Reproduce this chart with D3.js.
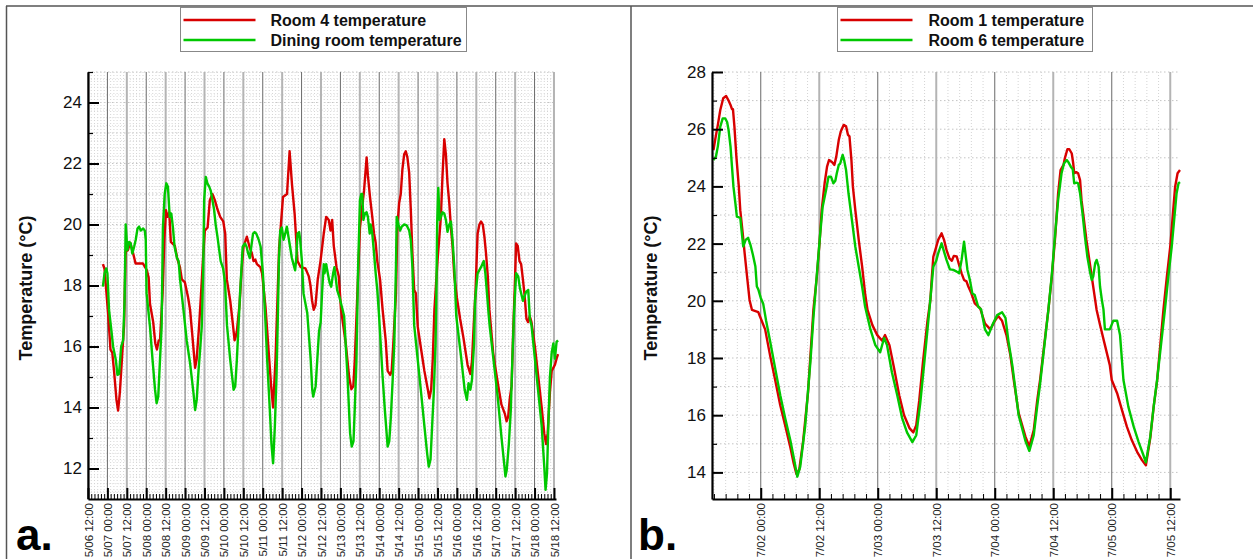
<!DOCTYPE html>
<html>
<head>
<meta charset="utf-8">
<script src="https://cdn.jsdelivr.net/npm/d3@7"></script>
<style>
body { margin: 0; background: #fff; }
svg { display: block; }
text { font-family: "Liberation Sans", Arial, sans-serif; }
</style>
</head>
<body>
<svg id="chart" width="1253" height="559"></svg>
<script>
// ---- data: [hours after first midnight, °C] ----
// panel a: hours after 5/07 00:00
const room4 = [[-2.8,18.7],[-1.8,18.55],[0.4,17.1],[1.9,15.9],[3,15.8],[4.1,15.2],[5.6,14.25],[6.6,13.9],[7.7,14.5],[9.1,15.7],[10.3,16.7],[11.2,19],[11.8,19.3],[12.6,19.15],[14.1,19.4],[15.7,19.1],[17.4,18.72],[22,18.72],[24.4,18.5],[25.5,18.25],[26.3,17.4],[28.3,16.8],[29.6,16.1],[30.6,15.9],[31.7,16.2],[32.5,16.2],[34.1,17.75],[35.2,19.5],[36.2,20.47],[36.9,20.25],[38.2,20.4],[39.2,19.43],[41.7,19.3],[43.1,18.9],[44.8,18.6],[46,18.2],[47.9,18.1],[49.9,17.6],[51.1,17.2],[52.6,16.3],[54.2,15.3],[55.2,15.6],[56.7,16.7],[57.9,17.75],[59,18.8],[60.2,19.8],[61.9,19.9],[63.3,20.8],[64.9,21],[66.4,20.8],[68,20.5],[69.7,20.25],[71.6,20.1],[72.8,19.7],[73.8,18.2],[75.9,17.5],[77.6,16.7],[78.6,16.2],[79.2,16.3],[80,16.5],[81.7,17.4],[82.8,18.4],[84.1,19.27],[86.2,19.6],[87.8,19.27],[89.3,19.05],[90.3,18.8],[91.4,18.85],[92.4,18.7],[94.5,18.6],[95.6,18.4],[97.7,17.3],[99.7,15.8],[101.2,14.7],[102.4,14],[103.9,15.6],[104.9,17.2],[106.1,19.2],[108.5,20.9],[111,21],[112.6,22.4],[114.1,21.3],[115.7,20.36],[117.5,18.8],[119.5,18.6],[122.4,18.56],[124.5,18.3],[125.5,18],[126.5,17.5],[127.5,17.2],[128.6,17.35],[130,18.2],[131.7,18.8],[133.7,19.7],[135.2,20.25],[136.8,20.15],[137.9,19.8],[138.9,20.15],[139.9,19.3],[141.6,18.6],[143,18.3],[144.4,17.2],[147.3,16.1],[149.4,15],[150.8,14.6],[152,14.7],[152.9,15.56],[154.1,17.2],[156.1,19.9],[157.5,20.6],[158.6,21.1],[160.2,22.2],[161,21.6],[162.3,20.9],[163.7,20.25],[164.8,19.7],[165.8,19.4],[166.8,18.8],[168.5,18.2],[170.1,17.2],[172,16.2],[173.2,15.2],[174.8,15.07],[175.7,15.2],[176.7,16.1],[178.3,17.7],[179.2,19.9],[180.3,20.7],[181.3,21],[182.3,21.8],[183.4,22.3],[184.4,22.4],[185.4,22.2],[186.5,21.7],[187.5,20.5],[188.5,19.05],[189.6,17.85],[190.6,17.75],[191.8,16.65],[193.9,15.9],[195.9,15.2],[198,14.6],[199,14.3],[200.1,14.6],[201.1,15.6],[202.1,17.2],[204,18.8],[206.1,20.25],[207.1,21.6],[208.2,22.8],[209.2,22.3],[210.2,21.35],[211.3,20.7],[212.3,19.9],[213.3,19.3],[214.4,18.3],[216,17.6],[218,16.9],[220,16.3],[222.6,15.4],[224.3,15.1],[225.3,15.5],[226.4,16.7],[227.5,17.8],[228.8,19.7],[229.9,20],[230.9,20.1],[232,20],[233,19.6],[234,19.05],[235.1,18.3],[236.1,17.2],[238.4,15.8],[239.5,15.4],[241.6,14.7],[243.5,14.1],[245.6,13.8],[246.7,13.55],[247.7,13.7],[248.7,14.3],[249.8,14.7],[250.8,16.5],[251.8,18],[252.6,19.38],[253.6,19.3],[254.7,18.8],[255.7,18.7],[256.8,18.2],[257.8,17.7],[259,16.9],[260,16.8],[261,17],[262.1,16.8],[264.2,16],[266.3,15],[268.4,14],[270,13.15],[271.1,12.8],[272.1,13.15],[273.5,14.5],[274.6,15.2],[276.6,15.4],[277.6,15.6],[278.5,15.75]];
const dining = [[-2.8,17.96],[-1.8,18.4],[-0.8,18.56],[0,18.4],[1,17.2],[2.5,16.5],[3.5,16],[5.2,15.56],[6.2,15.07],[7.2,15.1],[8.5,16],[9.7,16.2],[10.6,17.5],[11.3,20],[12.3,19.16],[13.4,19.43],[14.4,19.38],[15.4,19.05],[16.5,19.27],[17.5,19.5],[18.6,19.87],[19.6,19.93],[20.6,19.8],[22.1,19.87],[23.1,19.8],[23.7,19.5],[24.2,17.75],[26.3,16.65],[27.9,15.56],[29.4,14.6],[30.4,14.14],[31.4,14.35],[32.5,15.56],[33.5,16.65],[34.3,19.9],[35.4,21],[36.4,21.35],[37.4,21.24],[38.5,20.25],[39.5,20.36],[40.5,19.9],[41.5,19.27],[43,18.9],[44,18.8],[44.9,18.2],[47,17.2],[49,16.2],[51.1,15.45],[53.2,14.47],[54.2,13.92],[55.2,14.25],[56.3,15.2],[57.3,15.9],[58.3,16.65],[59.2,18.5],[59.8,20.8],[60.8,21.56],[61.8,21.35],[62.9,21.24],[63.9,21.1],[64.9,20.8],[65.9,20.5],[66.9,20],[68,19.6],[70,18.8],[71.5,18.56],[72.7,18.1],[73.9,16.7],[75.9,15.56],[78,14.58],[79,14.7],[80,15.56],[81,16.65],[82,17.75],[83,18.7],[83.6,19.27],[85,19.38],[86,19.27],[87,19.05],[88,18.9],[90,19.7],[91,19.75],[92,19.7],[93.5,19.5],[94.7,19.27],[96.1,18.4],[97.5,17],[98.7,15.6],[100.3,14],[101.4,12.8],[102.4,12.17],[103.5,13.4],[104.5,15],[105.3,16.9],[106,18.8],[106.8,19.8],[107.8,19.9],[108.9,19.5],[109.9,19.7],[110.9,19.93],[111.9,19.6],[112.9,19.27],[114,18.9],[115,18.7],[116,18.5],[116.6,18.8],[117.5,19.7],[118.5,19.75],[119.1,19.5],[120.2,18.8],[121.2,17.74],[123.5,17.1],[125.6,15.6],[126.6,14.58],[127.2,14.36],[128.7,14.7],[129.7,15.56],[130.8,16.5],[131.8,16.8],[132.7,17.8],[133.7,18.7],[134.2,18.4],[135.2,18.7],[136.2,18.4],[137.3,18.1],[138.3,17.96],[139.5,18.4],[140.3,18.6],[141,18.3],[142,17.85],[143.5,17.6],[146.3,17],[148.4,15],[150,13.15],[151,12.72],[152.1,12.9],[152.9,14],[153.9,15.5],[154.9,18.5],[156.1,20.8],[156.9,21],[157.5,21],[158.2,20.15],[159.2,20.36],[160.2,20.4],[161,20.25],[162.1,19.7],[162.7,20],[163.7,19.7],[164.8,19.05],[165.8,18.4],[166.8,17.85],[167.9,17],[170.1,15],[171.5,13.9],[173.2,12.72],[174.2,12.9],[175.2,13.7],[176.3,14.9],[177.3,16.1],[178.3,18.5],[178.8,20.25],[179.9,20],[180.9,19.8],[181.9,19.93],[183.4,20],[185,19.97],[186.5,19.8],[187.5,19.5],[188.5,18.6],[189.6,16.7],[191.8,15.56],[193.9,14.47],[195.9,13.4],[197.6,12.5],[198.6,12.06],[199.7,12.3],[200.7,13.4],[201.7,14.47],[202.8,16.1],[203.2,17.3],[203.8,20],[204.5,21.2],[205.3,20.15],[206.1,20.25],[207.1,20.4],[208.2,20.36],[209.2,20.15],[210.2,19.76],[211.3,20],[212.3,20.1],[213.3,19.5],[214.4,18.6],[215.6,17],[218.7,15.6],[220.8,14.58],[222.2,14.25],[223.2,14.8],[224.3,14.58],[225.3,14.9],[226.6,16.1],[227.2,17.5],[228.8,18.4],[230.9,18.6],[232.6,18.8],[233.6,18.4],[234.6,17.74],[235.7,17],[236.3,16.65],[239.4,15.2],[241.4,14.25],[243.5,13.05],[245.2,12.17],[246,11.74],[246.8,11.95],[248.1,12.8],[249.3,13.9],[250.3,15.6],[251.4,17.2],[252.6,18.4],[253.9,18.3],[255,17.9],[256.8,17.5],[258.8,17.8],[260.1,17.85],[261.1,16.9],[262.1,16.7],[264.2,15.6],[266.3,14.5],[268.4,13.4],[270,12.06],[270.8,11.3],[271.7,11.85],[272.5,13.4],[273.5,15],[274.6,15.8],[275.6,16.1],[276.6,15.6],[277.6,16.15],[278.5,16.2]];

// panel b: hours after 7/02 00:00
const room1 = [[-9.7,25.27],[-9.3,25.68],[-8.8,26.15],[-8.3,26.67],[-7.7,27.08],[-7.1,27.16],[-6.6,27],[-6.2,26.85],[-5.9,26.7],[-5.7,26.7],[-5.4,26.09],[-5,25.04],[-4.5,23.99],[-4.2,23.17],[-3.7,22.36],[-3.3,21.66],[-2.8,20.84],[-2.3,20.03],[-1.8,19.68],[-0.5,19.6],[0.9,19],[1.9,18.1],[3,17.2],[4,16.35],[5,15.65],[6.1,14.85],[6.7,14.36],[7.3,13.95],[7.9,14.1],[8.7,15.1],[9.7,16.8],[10.8,19.68],[11.5,20.84],[12.1,22.13],[12.5,23.17],[13.1,24.11],[13.6,24.69],[14,24.92],[14.6,24.85],[15.1,24.75],[15.5,25.05],[16,25.62],[16.4,25.91],[17,26.15],[17.5,26.1],[17.9,25.8],[18.2,25.75],[18.6,24.92],[18.9,23.99],[19.4,23.17],[20.1,22.13],[20.8,21.19],[21.4,20.26],[21.9,19.68],[22.9,19.15],[23.9,18.8],[24.9,18.6],[25.5,18.8],[26.4,18.45],[27.4,17.6],[28.4,16.7],[29.4,16],[30.5,15.55],[31.3,15.4],[31.9,15.65],[32.5,16.5],[33.3,17.9],[34.2,19.3],[34.8,20.03],[35.1,20.84],[35.4,21.54],[36,21.89],[36.4,22.13],[37.1,22.36],[37.6,22.13],[38.1,21.78],[38.7,21.48],[39.2,21.4],[39.6,21.57],[40.2,21.55],[40.7,21.25],[41.2,20.96],[41.7,20.73],[42.2,20.68],[42.6,20.49],[43.2,20.26],[43.9,19.91],[45,19.74],[46,19.2],[47.1,19],[47.9,19.26],[48.7,19.47],[49.5,19.3],[50.4,18.8],[51.2,18.1],[51.9,17.23],[52.9,16.07],[54.3,15.25],[55.1,14.9],[56,15.48],[56.7,16.5],[57.3,17.23],[59,19.68],[59.7,20.84],[60.4,22.24],[61,23.76],[61.5,24.57],[62.1,24.75],[62.4,25],[62.9,25.3],[63.3,25.3],[63.8,25.15],[64.1,24.8],[64.3,24.46],[64.7,24.5],[65.1,24.46],[65.5,24.22],[65.8,23.52],[66.3,22.83],[66.8,22.13],[67.4,21.43],[67.9,20.84],[68.4,20.26],[68.9,19.68],[69.6,19.15],[70.6,18.45],[71.6,17.75],[72,17.23],[73.1,16.77],[74.1,16.18],[75.1,15.6],[76.1,15.13],[77.2,14.72],[78.2,14.43],[79,14.25],[79.9,15.2],[80.6,16.3],[81.3,17.2],[82.6,19.68],[83.3,20.84],[84,21.89],[84.5,22.94],[85,23.99],[85.5,24.46],[86,24.57]];
const room6 = [[-9.7,24.92],[-9.2,25.04],[-8.8,25.4],[-8.3,26.09],[-7.8,26.38],[-7.3,26.38],[-6.9,26.25],[-6.6,25.97],[-6.2,25.39],[-5.9,24.69],[-5.6,23.99],[-5.2,23.41],[-4.9,22.94],[-4.2,22.9],[-3.6,21.9],[-3.1,22.13],[-2.6,22.2],[-2.1,21.95],[-1.6,21.6],[-1.1,21.2],[-0.8,20.5],[-0.5,20.4],[0,20.1],[0.5,19.9],[1.1,19.3],[1.9,18.6],[3,17.6],[4,16.7],[5,15.9],[6.1,15.1],[6.9,14.4],[7.5,13.85],[8.1,14.2],[9.1,15.6],[10.2,17.9],[10.8,19.4],[11.5,20.9],[12.2,22.36],[12.7,23.29],[13.4,23.87],[13.9,24.34],[14.4,24.34],[14.9,24.11],[15.3,24.2],[15.6,24.46],[16,24.75],[16.3,24.8],[16.8,25.1],[17.1,24.92],[17.5,24.57],[18,23.76],[18.7,22.83],[19.4,21.89],[20.1,21.19],[20.8,20.49],[21.4,19.8],[22.5,19],[23.5,18.45],[24.5,18.2],[25.3,18.7],[25.9,18.45],[26.9,17.5],[28,16.7],[29,15.9],[30,15.4],[31.1,15.06],[31.9,15.3],[32.7,16.4],[33.7,18.1],[34.6,19.7],[35.4,21.19],[36,21.4],[36.4,21.66],[37.1,22.01],[37.7,21.66],[38.1,21.43],[38.8,21.1],[39.5,21.08],[40.2,21.02],[40.7,20.96],[41.2,21.43],[41.7,22.07],[42.1,21.5],[42.4,21.08],[42.9,20.73],[43.4,20.26],[43.9,20.2],[44.6,19.8],[45.2,19.7],[46,19],[46.7,18.8],[47.5,19.15],[48.5,19.5],[49.5,19.6],[50.2,19.4],[50.8,18.6],[51.6,17.75],[52.9,16],[54.3,15.1],[55.1,14.75],[56,15.3],[56.7,16.3],[57.3,17.1],[59,19.68],[59.7,20.9],[60.4,22.36],[61,23.52],[61.7,24.46],[62.2,24.8],[62.8,24.92],[63.1,24.85],[63.6,24.69],[64,24.6],[64.3,24.11],[64.8,24.13],[65.1,24.11],[65.5,23.76],[66,23.06],[66.5,22.24],[67,21.54],[67.6,20.96],[67.9,20.73],[68.2,20.85],[68.6,21.31],[68.9,21.43],[69.3,21.2],[69.6,20.49],[70,20],[70.3,19.7],[70.6,19],[71.6,19],[72.3,19.3],[73.1,19.3],[73.7,18.8],[74.4,17.23],[75.4,16.3],[76.5,15.6],[77.5,15.07],[78.5,14.6],[79,14.35],[79.9,15.25],[80.6,16.3],[81.3,17.23],[82.9,19.68],[83.6,20.84],[84.3,21.89],[84.8,22.83],[85.3,23.76],[85.7,24.11],[86,24.15]];

const legendA = ["Room 4 temperature", "Dining room temperature"];
const legendB = ["Room 1 temperature", "Room 6 temperature"];
const yTicksA = [12, 14, 16, 18, 20, 22, 24];
const yTicksB = [14, 16, 18, 20, 22, 24, 26, 28];
const RED = "#d80000", GREEN = "#00c800";

const svg = d3.select("#chart");
const fmt = d3.timeFormat("%-m/%d %H:%M");

function drawPanel(p) {
  const x = d3.scaleTime().domain(p.xDomain).range([p.left, p.right]);
  const y = d3.scaleLinear().domain(p.yDomain).range([p.bottom, p.top]);
  const g = svg.append("g");

  // fine dotted grid
  g.append("g").selectAll("line").data(p.yFine).join("line")
    .attr("x1", p.left).attr("x2", p.right).attr("y1", d => y(d)).attr("y2", d => y(d))
    .attr("stroke", "#e2e2e2").attr("stroke-dasharray", "1,2");
  g.append("g").selectAll("line").data(p.yGrid).join("line")
    .attr("x1", p.left).attr("x2", p.right).attr("y1", d => y(d)).attr("y2", d => y(d))
    .attr("stroke", "#c4c4c4").attr("stroke-dasharray", "1.5,2.5");
  g.append("g").selectAll("line").data(p.xMinor).join("line")
    .attr("x1", d => x(d)).attr("x2", d => x(d)).attr("y1", p.top).attr("y2", p.bottom)
    .attr("stroke", "#d4d4d4").attr("stroke-dasharray", "1,2");

  // solid vertical lines at 12h marks
  g.append("g").selectAll("line").data(p.xMajor).join("line")
    .attr("x1", d => x(d)).attr("x2", d => x(d)).attr("y1", p.top).attr("y2", p.bottom)
    .attr("stroke", d => d.getHours() === 0 ? "#6a6a6a" : "#b4b4b4")
    .attr("stroke-width", d => d.getHours() === 0 ? 1 : 2);

  // series
  const line = d3.line().x(d => x(d3.timeMinute.offset(p.base, Math.round(d[0] * 60)))).y(d => y(d[1]));
  p.series.forEach((s, i) => {
    g.append("path").datum(s).attr("fill", "none")
      .attr("stroke", i === 0 ? RED : GREEN).attr("stroke-width", 2.4)
      .attr("stroke-linejoin", "round").attr("d", line);
  });

  // x axis: major + minor ticks pointing inward
  const xa = g.append("g").attr("transform", `translate(0,${p.bottom})`)
    .call(d3.axisBottom(x).tickValues(p.xMinor).tickSize(-5).tickFormat(""));
  xa.select(".domain").remove();
  xa.selectAll("line").attr("stroke", "#000").attr("stroke-width", 1);
  const xb = g.append("g").attr("transform", `translate(0,${p.bottom})`)
    .call(d3.axisBottom(x).tickValues(p.xMajor).tickSizeInner(-11).tickSizeOuter(0).tickFormat(fmt));
  xb.select(".domain").attr("stroke", "#000").attr("stroke-width", 2.2);
  xb.selectAll("line").attr("stroke", "#000").attr("stroke-width", 2);
  xb.selectAll("text")
    .attr("transform", "rotate(-90)").attr("text-anchor", "end")
    .attr("x", -4).attr("y", 0).attr("dy", "0.35em")
    .attr("fill", "#222").style("font-size", "11.5px");

  // y axis
  const ya = g.append("g").attr("transform", `translate(${p.left},0)`)
    .call(d3.axisLeft(y).tickValues(p.yMinor).tickSize(-5).tickFormat(""));
  ya.select(".domain").remove();
  ya.selectAll("line").attr("stroke", "#000").attr("stroke-width", 1.2);
  const yb = g.append("g").attr("transform", `translate(${p.left},0)`)
    .call(d3.axisLeft(y).tickValues(p.yMajor).tickSizeInner(-11).tickSizeOuter(0).tickPadding(6));
  yb.select(".domain").attr("stroke", "#000").attr("stroke-width", 2.2);
  yb.selectAll("line").attr("stroke", "#000").attr("stroke-width", 2);
  yb.selectAll("text").attr("fill", "#111").style("font-size", "17px");

  // axis title
  svg.append("text")
    .attr("transform", `translate(${p.titleX},288) rotate(-90)`)
    .attr("text-anchor", "middle").attr("dy", "0.35em")
    .style("font-size", "18px").style("font-weight", "bold").attr("fill", "#111")
    .text("Temperature (°C)");

  // legend
  const lg = svg.append("g");
  lg.append("rect").attr("x", p.legend.x).attr("y", 7.5).attr("width", p.legend.w).attr("height", 44)
    .attr("fill", "#fff").attr("stroke", "#888").attr("stroke-width", 1);
  p.legend.labels.forEach((t, i) => {
    const yy = 20 + i * 20;
    lg.append("line").attr("x1", p.legend.x + 3).attr("x2", p.legend.x + 75)
      .attr("y1", yy).attr("y2", yy).attr("stroke", i === 0 ? RED : GREEN).attr("stroke-width", 2.4);
    lg.append("text").attr("x", p.legend.x + p.legend.tx).attr("y", yy).attr("dy", "0.36em")
      .style("font-size", "16px").style("font-weight", "bold").attr("fill", "#111").text(t);
  });

  // panel letter
  svg.append("text").attr("x", p.letterX).attr("y", 550)
    .style("font-size", "44px").style("font-weight", "bold").attr("fill", "#000").text(p.letter);
}

// ---- panel a ----
const baseA = new Date(2015, 4, 7, 0, 0);
const startA = new Date(2015, 4, 6, 12, 0);
const endA = new Date(2015, 4, 18, 13, 15);
const majorA = d3.timeHour.every(12).range(startA, endA);
const minorA = d3.timeHour.every(2).range(startA, endA).filter(d => d.getHours() % 12 !== 0);
drawPanel({
  base: baseA, xDomain: [startA, endA], yDomain: [11, 25],
  left: 88, right: 556, top: 72, bottom: 499,
  xMajor: majorA, xMinor: minorA,
  yMajor: yTicksA, yMinor: d3.range(13, 26, 2),
  yGrid: d3.range(12, 26), yFine: d3.range(11.25, 25, 0.25).filter(v => v % 1 !== 0),
  series: [room4, dining],
  titleX: 26, letter: "a.", letterX: 16,
  legend: { x: 180.5, w: 286, tx: 90, labels: legendA }
});

// ---- panel b ----
const baseB = new Date(2015, 6, 2, 0, 0);
const startB = new Date(2015, 6, 1, 14, 0);
const endB = new Date(2015, 6, 5, 14, 0);
const majorB = d3.timeHour.every(12).range(startB, endB);
const minorB = d3.range(-4, 36).map(k => d3.timeMinute.offset(baseB, k * 144))
  .filter(d => d >= startB && d <= endB && (d - baseB) % (12 * 3600e3) !== 0);
drawPanel({
  base: baseB, xDomain: [startB, endB], yDomain: [13.07, 28],
  left: 712, right: 1180, top: 72, bottom: 499,
  xMajor: majorB, xMinor: minorB,
  yMajor: yTicksB, yMinor: d3.range(15, 28, 2),
  yGrid: d3.range(14, 29), yFine: [],
  series: [room1, room6],
  titleX: 651, letter: "b.", letterX: 638,
  legend: { x: 837.5, w: 255, tx: 91, labels: legendB }
});

// frame
const frame = svg.append("g").attr("stroke", "#555").attr("stroke-width", 1.5);
frame.append("line").attr("x1", 6).attr("x2", 1253).attr("y1", 6).attr("y2", 6);
frame.append("line").attr("x1", 6.5).attr("x2", 6.5).attr("y1", 6).attr("y2", 559);
frame.append("line").attr("x1", 631).attr("x2", 631).attr("y1", 6).attr("y2", 559);
</script>
</body>
</html>
